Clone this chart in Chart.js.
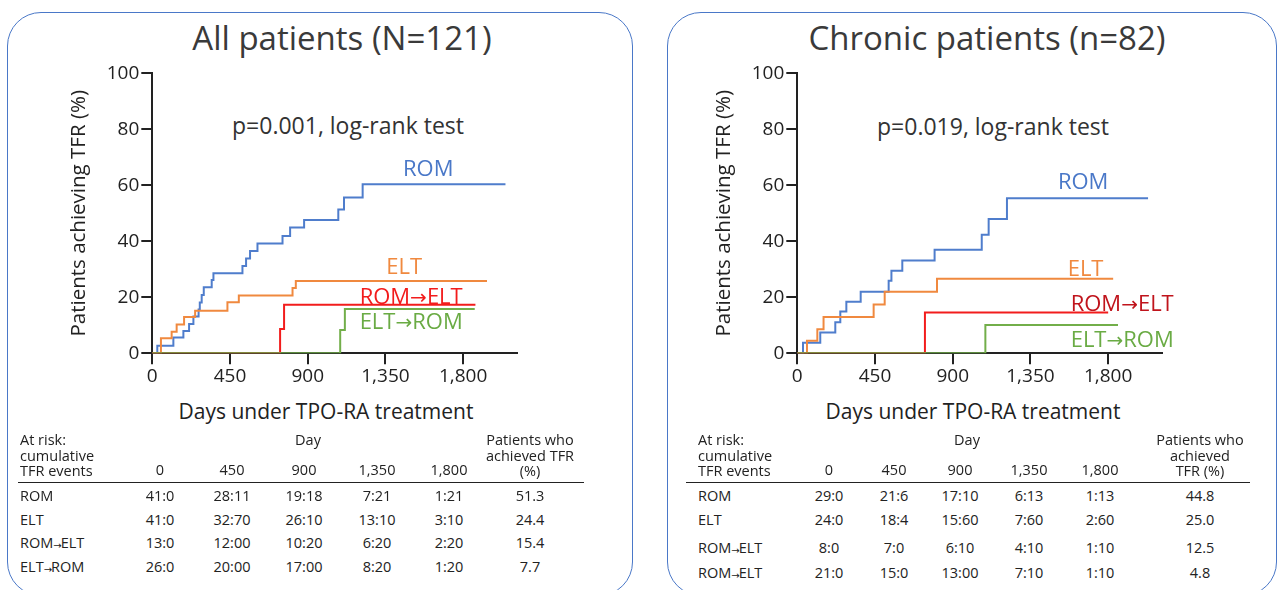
<!DOCTYPE html>
<html><head><meta charset="utf-8">
<script src="https://cdn.jsdelivr.net/npm/chart.js@4.4.1/dist/chart.umd.min.js"></script>
<style>
body{margin:0;background:#fff;}
#wrap{position:relative;width:1277px;height:590px;overflow:hidden;font-family:'Open Sans',sans-serif;color:#222;background:#fff}
.box{position:absolute;border:1.6px solid #4a78c8;border-radius:34px;box-sizing:border-box}
.ctr{position:absolute;transform:translate(-50%,-50%);white-space:nowrap;line-height:1}
.lft{position:absolute;transform:translate(0,-50%);white-space:nowrap;line-height:1}
.title{font-size:33px;color:#3a3a3a}
.ptext{font-size:23px;color:#333}
.xt{font-size:21px;color:#222}
.lab{font-size:22px}
.cell{font-size:14.5px;color:#222}
.cw{position:absolute}
.hline{position:absolute;height:0;border-top:1.3px solid #222}
.sa{font-size:10px;font-family:'DejaVu Sans',sans-serif;position:relative;top:1px;letter-spacing:-1px}
.la{font-family:'DejaVu Sans',sans-serif;font-size:20px}
</style></head>
<body>
<div id="wrap">
  <div class="box" style="left:7px;top:12px;width:626px;height:584px"></div>
  <div class="box" style="left:667px;top:12px;width:610px;height:584px"></div>
  <div class="ctr title" style="left:342px;top:37px">All patients (N=121)</div>
  <div class="ctr title" style="left:987px;top:37px">Chronic patients (n=82)</div>
  <div class="ctr ptext" style="left:348px;top:125px">p=0.001, log-rank test</div>
  <div class="ctr ptext" style="left:993px;top:126px">p=0.019, log-rank test</div>
  <div class="ctr xt" style="left:326px;top:411px">Days under TPO-RA treatment</div>
  <div class="ctr xt" style="left:973px;top:411px">Days under TPO-RA treatment</div>
  <div class="cw" style="left:60px;top:55px;width:470px;height:375px"><canvas id="c1"></canvas></div>
  <div class="cw" style="left:705.4px;top:55px;width:470px;height:375px"><canvas id="c2"></canvas></div>
  <div id="labels"></div>
  <div id="tables"></div>
</div>
<script>
// ---------- data ----------
const seriesNames = ['ROM', 'ELT', 'ROM→ELT', 'ELT→ROM'];
const xTickDays = [0, 450, 900, 1350, 1800];
const yTickPct = [0, 20, 40, 60, 80, 100];

// All patients (N=121)
const allRomDays = [0, 29, 122, 180, 213, 238, 268, 275, 286, 298, 344, 354, 522, 543, 566, 609, 754, 798, 879, 1077, 1110, 1218, 2045];
const allRomPct  = [0, 2.7, 5.6, 8.0, 10.5, 13.1, 15.6, 18.1, 20.8, 23.6, 26.2, 28.6, 31.2, 33.9, 36.5, 39.2, 41.9, 44.9, 47.6, 51.4, 55.6, 60.4, 60.4];
const allEltDays = [0, 50, 112, 141, 184, 248, 435, 501, 812, 831, 1938];
const allEltPct  = [0, 5.4, 7.7, 10.3, 13.0, 15.2, 18.2, 20.6, 23.3, 25.8, 25.8];
const allRomEltDays = [0, 740, 763, 1871];
const allRomEltPct  = [0, 8.7, 17.3, 17.3];
const allEltRomDays = [0, 1088, 1115, 1867];
const allEltRomPct  = [0, 8.3, 15.8, 15.8];

// Chronic patients (n=82)
const chrRomDays = [0, 33, 133, 220, 249, 284, 367, 529, 545, 608, 795, 1068, 1108, 1214, 2031];
const chrRomPct  = [0, 3.8, 7.4, 11.1, 14.9, 18.4, 22.0, 25.9, 29.5, 33.1, 37.0, 42.3, 48.0, 55.4, 55.4];
const chrEltDays = [0, 56, 116, 152, 442, 506, 809, 1829];
const chrEltPct  = [0, 4.5, 8.6, 13.0, 17.4, 22.0, 26.6, 26.6];
const chrRomEltDays = [0, 739, 1800];
const chrRomEltPct  = [0, 14.6, 14.6];
const chrEltRomDays = [0, 1089, 1857];
const chrEltRomPct  = [0, 10.1, 10.1];

// At-risk tables
const tableDays = [0, 450, 900, 1350, 1800];
const allRowLabels = ['ROM', 'ELT', 'ROM→ELT', 'ELT→ROM'];
const allAtRisk = [
  ['41:0', '28:11', '19:18', '7:21', '1:21'],
  ['41:0', '32:70', '26:10', '13:10', '3:10'],
  ['13:0', '12:00', '10:20', '6:20', '2:20'],
  ['26:0', '20:00', '17:00', '8:20', '1:20']
];
const allAchieved = ['51.3', '24.4', '15.4', '7.7'];
const chrRowLabels = ['ROM', 'ELT', 'ROM→ELT', 'ROM→ELT'];
const chrAtRisk = [
  ['29:0', '21:6', '17:10', '6:13', '1:13'],
  ['24:0', '18:4', '15:60', '7:60', '2:60'],
  ['8:0', '7:0', '6:10', '4:10', '1:10'],
  ['21:0', '15:0', '13:00', '7:10', '1:10']
];
const chrAchieved = ['44.8', '25.0', '12.5', '4.8'];

// ---------- styles ----------
const lineColors = ['#4f7dcc', '#f0893f', '#f21c1c', '#72ae4a'];
const FONT = "'Open Sans', sans-serif";
const INK = '#222';
Chart.defaults.font.family = FONT;

function pts(d, p) { return d.map((x, i) => ({ x: x, y: p[i] })); }

function makeChart(id, series) {
  const ds = series.map((s, i) => ({
    label: seriesNames[i],
    data: pts(s[0], s[1]),
    borderColor: lineColors[i],
    borderWidth: 2,
    pointRadius: 0,
    stepped: 'before',
    fill: false,
    order: 4 - i
  }));
  return new Chart(document.getElementById(id), {
    type: 'line',
    data: { datasets: ds },
    options: {
      responsive: true,
      maintainAspectRatio: false,
      animation: false,
      layout: { padding: { top: 18.3, right: 13.3, bottom: 0, left: 0 } },
      plugins: { legend: { display: false }, tooltip: { enabled: false } },
      scales: {
        x: {
          type: 'linear', min: 0, max: 2110,
          afterBuildTicks: s => { s.ticks = xTickDays.map(v => ({ value: v })); },
          afterFit: s => { s.height = 76.7; },
          ticks: { color: INK, font: { size: 19 }, padding: 1, maxRotation: 0,
                   callback: v => v.toLocaleString('en-US') },
          grid: { drawOnChartArea: false, drawTicks: true, tickLength: 11, tickColor: INK, lineWidth: 2 },
          border: { display: true, color: INK, width: 2 },
          title: { display: false }
        },
        y: {
          min: 0, max: 100,
          afterBuildTicks: s => { s.ticks = yTickPct.map(v => ({ value: v })); },
          afterFit: s => { s.width = 92.3; },
          ticks: { color: INK, font: { size: 19 }, padding: 2 },
          grid: { drawOnChartArea: false, drawTicks: true, tickLength: 11, tickColor: INK, lineWidth: 2 },
          border: { display: true, color: INK, width: 2 },
          title: { display: true, text: 'Patients achieving TFR (%)', color: INK,
                   font: { size: 20.5 }, padding: { top: 7, bottom: 0 } }
        }
      }
    }
  });
}

const c1 = makeChart('c1', [[allRomDays, allRomPct], [allEltDays, allEltPct], [allRomEltDays, allRomEltPct], [allEltRomDays, allEltRomPct]]);
const c2 = makeChart('c2', [[chrRomDays, chrRomPct], [chrEltDays, chrEltPct], [chrRomEltDays, chrRomEltPct], [chrEltRomDays, chrEltRomPct]]);

// series labels placed in data coordinates
const labelSpecs = [
  { chart: c1, left: 60,    items: [[1598, 66.5, '#4a78c8'], [1459, 31.5, '#f0893f'], [1499, 20.8, '#f21c1c'], [1499, 11.9, '#6aab44']] },
  { chart: c2, left: 705.4, items: [[1653, 61.9, '#4a78c8'], [1667, 30.8, '#f0893f'], [1879, 18.3, '#c0141c'], [1879, 5.5, '#6aab44']] }
];
const labDiv = document.getElementById('labels');
labelSpecs.forEach(spec => {
  spec.items.forEach((it, i) => {
    const d = document.createElement('div');
    d.className = 'ctr lab';
    d.style.color = it[2];
    d.style.left = (spec.left + spec.chart.scales.x.getPixelForValue(it[0])) + 'px';
    d.style.top = (55 + spec.chart.scales.y.getPixelForValue(it[1])) + 'px';
    d.innerHTML = seriesNames[i].replace('→', '<span class="la">→</span>');
    labDiv.appendChild(d);
  });
});

// tables
function arrowLabel(t) {
  return t.replace('→', '<span class="sa">→</span>');
}
function buildTable(cfg) {
  const tb = document.getElementById('tables');
  const add = (html, x, y, cls) => {
    const d = document.createElement('div');
    d.className = cls + ' cell';
    d.style.left = x + 'px'; d.style.top = y + 'px';
    d.innerHTML = html; tb.appendChild(d);
  };
  add('At risk:', cfg.lx, 440, 'lft');
  add('cumulative', cfg.lx, 455.5, 'lft');
  add('TFR events', cfg.lx, 471, 'lft');
  add('Day', cfg.dayX, 440, 'ctr');
  tableDays.forEach((v, j) => add(v.toLocaleString('en-US'), cfg.cols[j], 470, 'ctr'));
  cfg.lastHead.forEach((t, k) => add(t, cfg.lastX, 440 + k * 15.5, 'ctr'));
  const hl = document.createElement('div');
  hl.className = 'hline';
  hl.style.left = cfg.lineX0 + 'px'; hl.style.width = (cfg.lineX1 - cfg.lineX0) + 'px'; hl.style.top = '482px';
  tb.appendChild(hl);
  cfg.rows.forEach((lab, r) => {
    add(arrowLabel(lab), cfg.lx, cfg.rowY[r], 'lft');
    cfg.vals[r].forEach((v, j) => add(v, cfg.cols[j], cfg.rowY[r], 'ctr'));
    add(cfg.pct[r], cfg.lastX, cfg.rowY[r], 'ctr');
  });
}
buildTable({ lx: 20, dayX: 308, cols: [160, 232, 304, 377, 449], lastX: 530, lastHead: ['Patients who', 'achieved TFR', '(%)'],
  lineX0: 18, lineX1: 584, rows: allRowLabels, vals: allAtRisk, pct: allAchieved, rowY: [496, 520, 543, 567] });
buildTable({ lx: 698, dayX: 967, cols: [829, 894, 960, 1029, 1100], lastX: 1200, lastHead: ['Patients who', 'achieved', 'TFR (%)'],
  lineX0: 686, lineX1: 1250, rows: chrRowLabels, vals: chrAtRisk, pct: chrAchieved, rowY: [496, 520, 548, 573] });
</script>
</body></html>
